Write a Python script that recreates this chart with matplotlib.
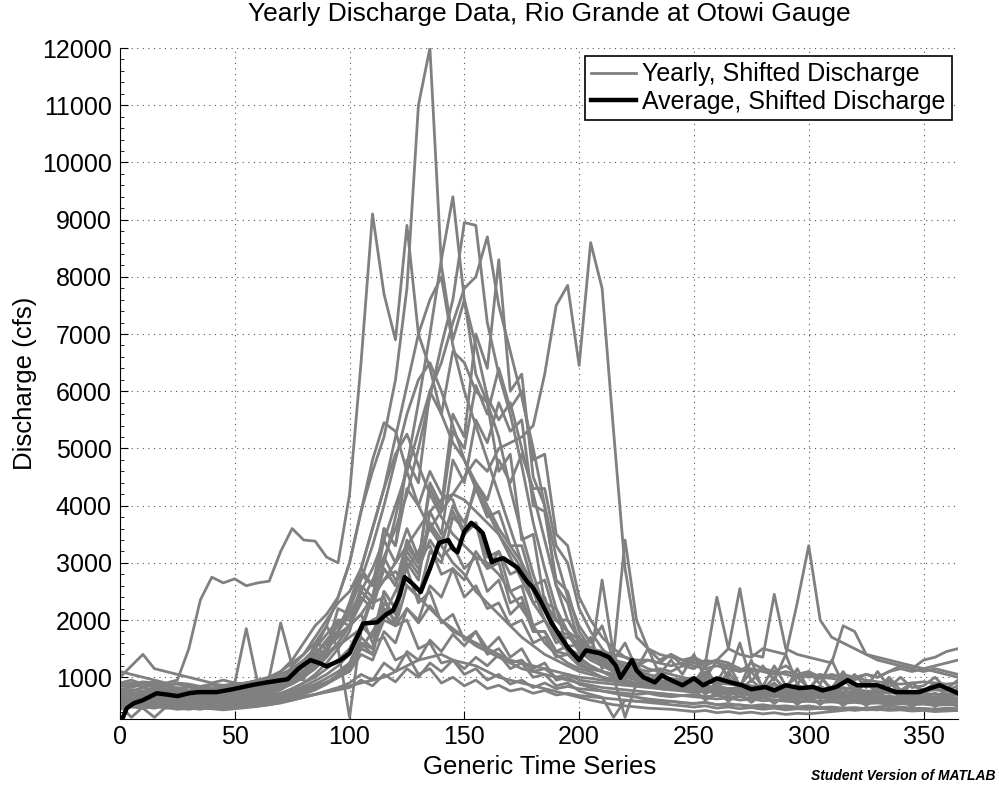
import numpy as np
import matplotlib
matplotlib.use('Agg')
import matplotlib.pyplot as plt
from matplotlib.ticker import MultipleLocator

plt.rcParams['font.family'] = ['Liberation Sans', 'DejaVu Sans']

day = list(range(0, 366, 5))   # sampled every 5 days

q01 = [850, 900, 820, 880, 800, 780, 760, 800, 780, 820,
       850, 900, 950, 1000, 1100, 1300, 1600, 1900, 2100, 2400,
       3000, 3900, 4600, 5200, 6200, 7800, 11000, 12000, 8200, 6900,
       7600, 6800, 5900, 5500, 5800, 5000, 4200, 3400, 2600, 2000,
       1700, 1500, 1350, 1250, 1200, 1100, 1050, 1000, 980, 950,
       1000, 950, 900, 920, 880, 850, 820, 860, 830, 800,
       820, 780, 800, 820, 780, 760, 750, 780, 760, 740,
       760, 780, 760, 750]
q02 = [700, 650, 620, 680, 640, 600, 620, 650, 600, 580,
       620, 650, 600, 640, 700, 750, 800, 850, 900, 1000,
       1200, 1500, 1800, 2100, 2500, 2900, 3200, 3600, 3900, 4200,
       4500, 4800, 4600, 5000, 5100, 5200, 5400, 6300, 7500, 7850,
       6450, 8600, 7800, 5300, 2900, 1700, 1500, 1400, 1350, 1300,
       1250, 1200, 1300, 1250, 1150, 1100, 1150, 1100, 1050, 1000,
       1050, 1000, 980, 950, 1000, 950, 920, 900, 880, 900,
       920, 900, 880, 900]
q03 = [1100, 1050, 1000, 950, 900, 950, 1500, 2350, 2750, 2650,
       2720, 2600, 2650, 2680, 3200, 3600, 3400, 3380, 3100, 3000,
       4200, 6500, 9100, 7700, 6900, 8900, 7000, 6400, 5600, 5100,
       4800, 4400, 4000, 3600, 3300, 3000, 2600, 2300, 2000, 1800,
       1650, 1500, 1450, 1400, 1350, 1300, 1300, 1250, 1200, 1250,
       1200, 1150, 1200, 1150, 1100, 1150, 1100, 1050, 1100, 1050,
       1000, 1050, 1000, 1050, 1000, 1050, 1000, 1100, 1150, 1100,
       1150, 1200, 1250, 1300]
q04 = [600, 650, 580, 620, 600, 560, 580, 600, 620, 580,
       600, 640, 680, 650, 700, 800, 900, 1000, 1150, 1300,
       1500, 1900, 2400, 3000, 3800, 4700, 5800, 7000, 8300, 9400,
       7600, 6300, 5800, 5200, 4300, 3500, 2800, 2200, 1800, 1500,
       1300, 1200, 1100, 1000, 950, 900, 880, 850, 820, 800,
       780, 800, 760, 740, 720, 750, 700, 720, 700, 680,
       700, 680, 660, 680, 650, 640, 660, 650, 630, 620,
       640, 620, 600, 620]
q05 = [750, 720, 700, 760, 740, 700, 680, 720, 700, 740,
       760, 720, 780, 800, 850, 950, 1050, 1200, 1400, 1600,
       1900, 2300, 2700, 3100, 3600, 4200, 5000, 5900, 6800, 7600,
       8950, 8900, 7200, 6300, 5600, 4700, 3700, 2900, 2200, 1800,
       1500, 1350, 1250, 1150, 1050, 1000, 950, 900, 880, 860,
       900, 1200, 830, 1100, 820, 1300, 780, 1000, 780, 1150,
       780, 1050, 740, 1000, 720, 900, 720, 950, 680, 900,
       720, 850, 680, 800]
q06 = [550, 600, 520, 560, 540, 500, 520, 560, 540, 500,
       520, 560, 600, 580, 620, 680, 750, 820, 900, 1000,
       1150, 1600, 1400, 2300, 2100, 3300, 3000, 4400, 4000, 5600,
       5200, 7000, 6400, 8300, 6000, 6300, 4500, 4000, 2600, 2300,
       1600, 1400, 1250, 1100, 1000, 950, 900, 850, 820, 800,
       780, 760, 740, 760, 720, 700, 720, 700, 680, 660,
       680, 660, 640, 660, 620, 600, 620, 600, 580, 600,
       620, 600, 580, 600]
q07 = [900, 850, 880, 820, 860, 800, 840, 820, 800, 850,
       880, 900, 860, 920, 980, 1100, 1250, 1400, 1600, 1800,
       2100, 2500, 2900, 3400, 4000, 4600, 5300, 6000, 6500, 7200,
       7800, 8000, 8700, 7500, 6700, 5900, 5000, 4000, 3100, 2400,
       1900, 1600, 1900, 1300, 1600, 1150, 1500, 1050, 1300, 1050,
       1400, 980, 1300, 1000, 1600, 920, 1200, 950, 1400, 880,
       1100, 880, 1300, 880, 1050, 820, 1100, 830, 1000, 820,
       850, 1000, 800, 950]
q08 = [650, 620, 680, 640, 600, 620, 580, 620, 600, 640,
       660, 700, 680, 720, 780, 900, 1050, 1250, 1500, 1800,
       2300, 2900, 3600, 4300, 5200, 6100, 7000, 7600, 8000, 6800,
       6000, 5400, 4800, 4200, 3600, 3000, 2500, 2000, 1700, 1450,
       1250, 1100, 1000, 950, 900, 860, 840, 800, 780, 760,
       740, 760, 720, 700, 720, 680, 660, 680, 650, 640,
       660, 640, 620, 640, 600, 590, 600, 580, 570, 560,
       580, 560, 550, 560]
q09 = [500, 520, 480, 500, 460, 480, 500, 470, 450, 480,
       500, 520, 540, 560, 600, 650, 720, 800, 900, 1050,
       1250, 1700, 1500, 2500, 2200, 3300, 3000, 4300, 3900, 5300,
       5000, 6100, 5600, 6400, 5700, 6000, 4800, 4900, 3500, 3300,
       2400, 2000, 1700, 1500, 1350, 1250, 1150, 1100, 1050, 1000,
       950, 920, 900, 880, 860, 840, 820, 800, 780, 760,
       740, 760, 720, 700, 680, 700, 660, 640, 620, 640,
       620, 600, 620, 600]
q10 = [800, 760, 820, 780, 740, 760, 720, 760, 740, 700,
       740, 780, 800, 850, 900, 1000, 1200, 1500, 1900, 2400,
       3000, 3900, 4800, 5450, 5300, 4600, 4000, 3600, 3300, 3000,
       2800, 2500, 2300, 2100, 1900, 1700, 1550, 1400, 1300, 1200,
       1100, 1050, 1000, 950, 920, 900, 870, 850, 830, 820,
       800, 820, 780, 760, 780, 740, 720, 740, 700, 720,
       700, 680, 700, 680, 660, 680, 650, 660, 640, 650,
       640, 660, 650, 640]
q11 = [700, 740, 680, 720, 700, 660, 680, 700, 660, 690,
       700, 720, 760, 740, 800, 880, 1000, 1200, 1450, 1800,
       2300, 2900, 3600, 4300, 4900, 5250, 4700, 4200, 3800, 3500,
       3300, 3100, 3000, 2800, 2500, 2200, 1900, 1600, 1400, 1250,
       1150, 1100, 1000, 960, 930, 900, 880, 860, 840, 820,
       800, 780, 800, 760, 740, 760, 720, 700, 720, 700,
       680, 700, 660, 680, 650, 640, 660, 630, 620, 640,
       620, 640, 620, 610]
q12 = [600, 580, 620, 560, 600, 580, 540, 580, 560, 600,
       620, 580, 640, 680, 720, 800, 900, 1050, 1250, 1500,
       1800, 2500, 2300, 3600, 3300, 4800, 4400, 6000, 5600, 6700,
       6500, 6000, 5800, 4600, 4900, 3400, 3500, 2300, 2200, 1500,
       1400, 1700, 1150, 1400, 1000, 1250, 900, 1100, 850, 1000,
       850, 1050, 800, 1000, 780, 950, 780, 900, 720, 880,
       720, 850, 720, 800, 680, 750, 670, 760, 680, 700,
       660, 720, 650, 700]
q13 = [450, 480, 460, 500, 470, 440, 460, 480, 450, 470,
       490, 510, 530, 560, 600, 640, 700, 780, 880, 1000,
       1150, 1500, 1400, 2200, 2000, 3000, 2700, 3900, 3500, 4800,
       4400, 5500, 5100, 5800, 5300, 5500, 4000, 3900, 2700, 2500,
       1800, 1500, 1300, 1150, 1050, 980, 920, 880, 850, 820,
       800, 780, 760, 740, 760, 720, 700, 680, 700, 660,
       650, 640, 660, 620, 600, 620, 590, 580, 600, 570,
       560, 580, 550, 560]
q14 = [850, 820, 880, 840, 800, 820, 780, 820, 800, 840,
       860, 820, 880, 900, 950, 1050, 1200, 1400, 1650, 1900,
       2200, 2800, 2600, 3600, 3300, 4300, 4000, 4600, 4200, 4100,
       3500, 3700, 2900, 3000, 2300, 2400, 1800, 1800, 1450, 1400,
       1250, 1150, 1100, 1050, 1000, 980, 950, 930, 900, 920,
       900, 1100, 920, 1250, 850, 1100, 840, 1200, 850, 1000,
       810, 1000, 800, 1100, 790, 950, 780, 1000, 770, 900,
       760, 900, 770, 850]
q15 = [580, 560, 600, 540, 560, 520, 560, 540, 580, 560,
       580, 600, 620, 650, 700, 760, 840, 940, 1050, 1200,
       1400, 1900, 1700, 2500, 2200, 3100, 2800, 3700, 3300, 4000,
       3700, 4300, 3800, 3900, 3300, 3300, 2600, 2700, 2000, 2000,
       1650, 1450, 1300, 1200, 1100, 1000, 950, 900, 870, 850,
       830, 810, 790, 770, 790, 750, 730, 750, 710, 700,
       690, 710, 680, 700, 670, 660, 680, 650, 640, 660,
       640, 650, 630, 640]
q16 = [650, 700, 660, 720, 680, 640, 700, 660, 680, 720,
       700, 740, 720, 760, 820, 900, 1000, 1150, 1350, 1600,
       1900, 2600, 2400, 3400, 3000, 3600, 3100, 3300, 2800, 2900,
       2400, 2600, 2200, 2300, 1900, 2000, 1600, 1700, 1350, 1400,
       1200, 1150, 1100, 1050, 1000, 980, 960, 940, 920, 900,
       880, 700, 860, 650, 860, 620, 800, 650, 790, 600,
       800, 620, 760, 600, 750, 580, 760, 560, 720, 560,
       720, 550, 710, 560]
q17 = [520, 500, 540, 520, 500, 480, 500, 520, 490, 510,
       530, 550, 570, 600, 640, 700, 760, 840, 920, 1000,
       1100, 1400, 1300, 1800, 1600, 2200, 2000, 2600, 2400, 2900,
       2700, 3200, 2900, 3200, 2800, 2900, 2300, 2400, 1800, 1750,
       1450, 1300, 1200, 1100, 1050, 1000, 950, 920, 900, 880,
       860, 840, 820, 800, 780, 800, 760, 740, 760, 720,
       700, 720, 690, 680, 700, 660, 650, 670, 640, 630,
       620, 640, 610, 620]
q18 = [600, 640, 580, 620, 560, 600, 580, 540, 580, 560,
       600, 620, 650, 700, 780, 1000, 950, 1500, 1400, 2000,
       1900, 2100, 1600, 1700, 1300, 1400, 1050, 1150, 900, 1000,
       850, 950, 800, 860, 760, 800, 720, 770, 690, 720,
       680, 660, 640, 620, 600, 580, 600, 560, 580, 550,
       540, 560, 520, 540, 510, 500, 520, 490, 500, 480,
       500, 470, 480, 460, 470, 450, 460, 440, 450, 430,
       440, 420, 430, 420]
q19 = [700, 660, 720, 680, 640, 680, 660, 620, 660, 640,
       680, 700, 740, 800, 880, 1200, 1100, 1600, 1500, 2200,
       2100, 2500, 2300, 2400, 1900, 2000, 1500, 1600, 1250, 1300,
       1050, 1150, 950, 1050, 880, 950, 820, 900, 800, 840,
       800, 780, 760, 740, 720, 700, 720, 680, 660, 680,
       660, 640, 620, 640, 600, 620, 590, 600, 580, 570,
       580, 560, 570, 550, 560, 540, 550, 530, 540, 520,
       530, 510, 520, 510]
q20 = [500, 300, 480, 460, 500, 480, 460, 440, 480, 460,
       470, 490, 500, 520, 550, 600, 650, 700, 750, 800,
       850, 900, 950, 1000, 1100, 1200, 1300, 1350, 1400, 1300,
       1250, 1200, 1100, 1000, 950, 900, 850, 800, 750, 700,
       650, 600, 560, 520, 500, 480, 460, 450, 440, 420,
       400, 420, 380, 400, 370, 390, 360, 380, 350, 370,
       360, 380, 400, 420, 440, 460, 480, 500, 480, 460,
       450, 440, 460, 450]
q21 = [1000, 1200, 1400, 1150, 1100, 1050, 1000, 950, 900, 950,
       900, 880, 920, 950, 1000, 1100, 1200, 1350, 1500, 1700,
       1900, 2100, 2400, 2700, 3000, 3300, 3600, 3900, 4100, 4200,
       4100, 3900, 3700, 3500, 3200, 2900, 2600, 2300, 2000, 1800,
       1500, 1300, 2700, 1400, 3400, 2000, 1500, 1300, 1400, 1200,
       1150, 1300, 1250, 1200, 1100, 1250, 1150, 1100, 1200, 1050,
       1100, 1000, 1050, 1000, 950, 1050, 1000, 1100, 1200, 1150,
       1300, 1350, 1450, 1500]
q22 = [800, 780, 760, 800, 780, 740, 760, 800, 780, 760,
       780, 800, 820, 860, 920, 1000, 1100, 1300, 1500, 1750,
       1900, 2400, 2200, 2900, 2600, 3400, 3000, 3700, 3400, 3900,
       3500, 3700, 3100, 3200, 2500, 2600, 1900, 2000, 1600, 1700,
       1600, 1450, 1350, 1300, 1250, 1200, 1300, 1250, 1400, 1300,
       1350, 1250, 1300, 1500, 1400, 1350, 1500, 1450, 1400, 2300,
       3300, 2000, 1700, 1600, 1500, 1400, 1350, 1300, 1250, 1200,
       1150, 1100, 1050, 1000]
q23 = [900, 950, 880, 920, 860, 900, 880, 840, 880, 860,
       880, 900, 940, 980, 1050, 1150, 1300, 1500, 1750, 2000,
       2000, 2500, 2300, 2900, 2600, 3200, 2900, 3400, 3100, 3300,
       2900, 3100, 2500, 2700, 2100, 2300, 1800, 1800, 1450, 1550,
       1550, 1400, 1300, 1250, 1200, 1150, 1100, 1150, 1100, 1200,
       1300, 1250, 2400, 1500, 2550, 1400, 1350, 2450, 1500, 1400,
       1350, 1300, 1250, 1900, 1800, 1400, 1300, 1250, 1200, 1150,
       1100, 1150, 1100, 1050]
q24 = [750, 700, 760, 720, 680, 700, 740, 700, 680, 720,
       900, 1850, 900, 1000, 1950, 1200, 1400, 1700, 2000, 2300,
       2500, 2900, 2600, 3100, 2700, 2900, 2300, 2500, 1950, 2100,
       1650, 1800, 1400, 1500, 1250, 1300, 1100, 1150, 1000, 1050,
       950, 920, 900, 880, 860, 840, 820, 800, 780, 800,
       780, 600, 740, 580, 720, 560, 700, 540, 690, 520,
       680, 520, 670, 500, 660, 500, 650, 480, 640, 470,
       650, 480, 660, 470]
q25 = [680, 700, 660, 640, 680, 660, 620, 660, 640, 680,
       700, 680, 720, 760, 820, 920, 1050, 1250, 1500, 1800,
       2200, 2700, 3300, 4000, 4800, 5600, 6200, 6500, 6000, 5400,
       4800, 4300, 3900, 3500, 3100, 2700, 2300, 2000, 1700, 1500,
       1350, 1200, 1100, 1000, 300, 900, 850, 820, 800, 780,
       760, 740, 760, 720, 700, 720, 680, 660, 680, 650,
       640, 660, 630, 620, 640, 610, 600, 620, 590, 580,
       600, 580, 570, 580]
q26 = [560, 540, 580, 600, 560, 520, 540, 560, 520, 540,
       560, 580, 600, 630, 680, 740, 800, 880, 980, 1100,
       1250, 1600, 1500, 2000, 1900, 2600, 2400, 3200, 3000, 3800,
       3600, 4400, 4100, 4800, 4400, 4900, 4300, 4300, 3300, 3000,
       2200, 1800, 1500, 1300, 1150, 1050, 1000, 950, 900, 880,
       860, 840, 820, 800, 780, 800, 760, 740, 720, 740,
       720, 700, 680, 700, 660, 650, 670, 640, 630, 650,
       640, 620, 630, 620]
q27 = [480, 500, 460, 300, 480, 460, 440, 470, 450, 430,
       450, 470, 490, 520, 560, 600, 650, 700, 760, 820,
       900, 1050, 950, 1250, 1100, 1450, 1300, 1650, 1450, 1750,
       1550, 1800, 1500, 1700, 1350, 1500, 1150, 1250, 950, 1000,
       880, 820, 760, 720, 680, 650, 620, 600, 580, 560,
       540, 560, 520, 500, 520, 490, 480, 500, 470, 460,
       480, 450, 460, 440, 450, 430, 440, 420, 430, 410,
       420, 400, 410, 420]
q28 = [650, 600, 640, 620, 580, 600, 560, 600, 580, 620,
       640, 660, 700, 760, 840, 950, 1100, 1250, 1400, 1550,
       1700, 1850, 2000, 2100, 1900, 2200, 1950, 2250, 2000, 1800,
       1700, 1550, 1450, 1350, 1250, 1150, 1100, 1050, 1000, 950,
       900, 860, 820, 800, 780, 760, 740, 720, 700, 680,
       700, 660, 680, 640, 660, 620, 640, 600, 620, 590,
       600, 580, 590, 570, 580, 560, 570, 550, 560, 540,
       550, 530, 540, 530]
q29 = [560, 520, 540, 500, 520, 480, 500, 520, 480, 500,
       520, 500, 540, 560, 580, 620, 660, 700, 740, 780,
       820, 950, 850, 1050, 920, 1150, 1000, 1250, 1100, 1300,
       1150, 1350, 1200, 1400, 1150, 1250, 1000, 1050, 850, 900,
       760, 700, 650, 300, 600, 580, 560, 540, 520, 500,
       480, 500, 460, 480, 450, 470, 440, 460, 430, 450,
       440, 460, 430, 450, 420, 440, 430, 450, 440, 460,
       450, 440, 430, 440]
q30 = [900, 880, 920, 900, 860, 880, 840, 820, 860, 840,
       860, 900, 940, 1000, 1100, 1250, 1400, 1600, 1900, 1500,
       300, 1800, 2400, 2700, 2850, 2600, 2400, 2200, 2000, 1850,
       1700, 1600, 1500, 1400, 1300, 1250, 1200, 1150, 1100, 1050,
       1000, 980, 950, 930, 900, 880, 860, 840, 820, 850,
       830, 810, 850, 800, 820, 790, 800, 770, 780, 760,
       770, 750, 760, 740, 750, 730, 740, 720, 730, 710,
       720, 700, 710, 700]

yearly = [q01, q02, q03, q04, q05, q06, q07, q08, q09, q10,
          q11, q12, q13, q14, q15, q16, q17, q18, q19, q20,
          q21, q22, q23, q24, q25, q26, q27, q28, q29, q30]

# averaged curve over all years
avg_day = [1, 3, 6, 10, 16, 20, 25, 30, 34, 42, 49, 57, 64, 73, 78, 83, 87, 90,
           96, 100, 106, 112, 116, 119, 122, 124, 127, 131, 135, 139, 143, 145,
           147, 150, 153, 156, 158, 162, 164, 167, 173, 177, 180, 183, 188, 195,
           200, 203, 209, 213, 216, 218, 223, 225, 228, 233, 236, 240, 245, 250,
           254, 260, 266, 271, 275, 281, 285, 290, 296, 302, 306, 312, 317, 321,
           330, 338, 348, 353, 357, 360, 365]
avg_q = [270, 460, 545, 600, 720, 700, 670, 720, 740, 740, 790, 860, 910, 965,
         1160, 1300, 1245, 1190, 1300, 1420, 1940, 1960, 2100, 2170, 2450, 2750,
         2650, 2490, 2900, 3350, 3400, 3250, 3185, 3550, 3700, 3600, 3520, 3010,
         3050, 3080, 2920, 2690, 2560, 2350, 1945, 1525, 1300, 1470, 1420, 1350,
         1200, 990, 1300, 1120, 1000, 910, 1035, 950, 860, 980, 860, 980, 910,
         860, 790, 830, 770, 860, 810, 830, 770, 830, 950, 860, 860, 740, 740,
         810, 860, 810, 720]

fig = plt.figure(figsize=(9.99, 7.89), dpi=100)
ax = fig.add_axes([0.1201, 0.0887, 0.8388, 0.8504])

for i, q in enumerate(yearly):
    ax.plot(day, q, color='#808080', lw=2.0,
            label='Yearly, Shifted Discharge' if i == 0 else None)
ax.plot(avg_day, avg_q, color='black', lw=3.2, label='Average, Shifted Discharge')

ax.set_xlim(0, 365)
ax.set_ylim(270, 12000)
ax.xaxis.set_major_locator(MultipleLocator(50))
ax.yaxis.set_major_locator(MultipleLocator(1000))
ax.yaxis.set_minor_locator(MultipleLocator(200))
ax.tick_params(which='major', direction='in', length=6, width=0.8, labelsize=18)
ax.tick_params(axis='x', pad=4)
ax.tick_params(axis='y', pad=6)
ax.tick_params(which='minor', direction='in', length=3, width=0.6)
ax.spines['top'].set_visible(False)
ax.spines['right'].set_visible(False)
ax.grid(True, which='major', color='#555555', linestyle=(0, (1, 4)), lw=0.8)
ax.set_axisbelow(True)

leg = ax.legend(loc='upper right', bbox_to_anchor=(0.993, 0.988), borderaxespad=0,
                fontsize=18, fancybox=False, framealpha=1, edgecolor='black',
                handlelength=1.8, handletextpad=0.25, labelspacing=0.15, borderpad=0.25)
leg.get_frame().set_linewidth(1.2)

fig.text(0.55, 1 - 14 / 789, 'Yearly Discharge Data, Rio Grande at Otowi Gauge',
         ha='center', va='center', fontsize=19)
fig.text(0.54, 1 - 767 / 789, 'Generic Time Series', ha='center', va='center', fontsize=18.5)
fig.text(25 / 999, 1 - 383 / 789, 'Discharge (cfs)', rotation=90, ha='center',
         va='center', fontsize=18.5)
fig.text(0.996, 1 - 776 / 789, 'Student Version of MATLAB', ha='right', va='center',
         fontsize=10, fontweight='bold', fontstyle='italic')

fig.savefig('out.png', dpi=100)
